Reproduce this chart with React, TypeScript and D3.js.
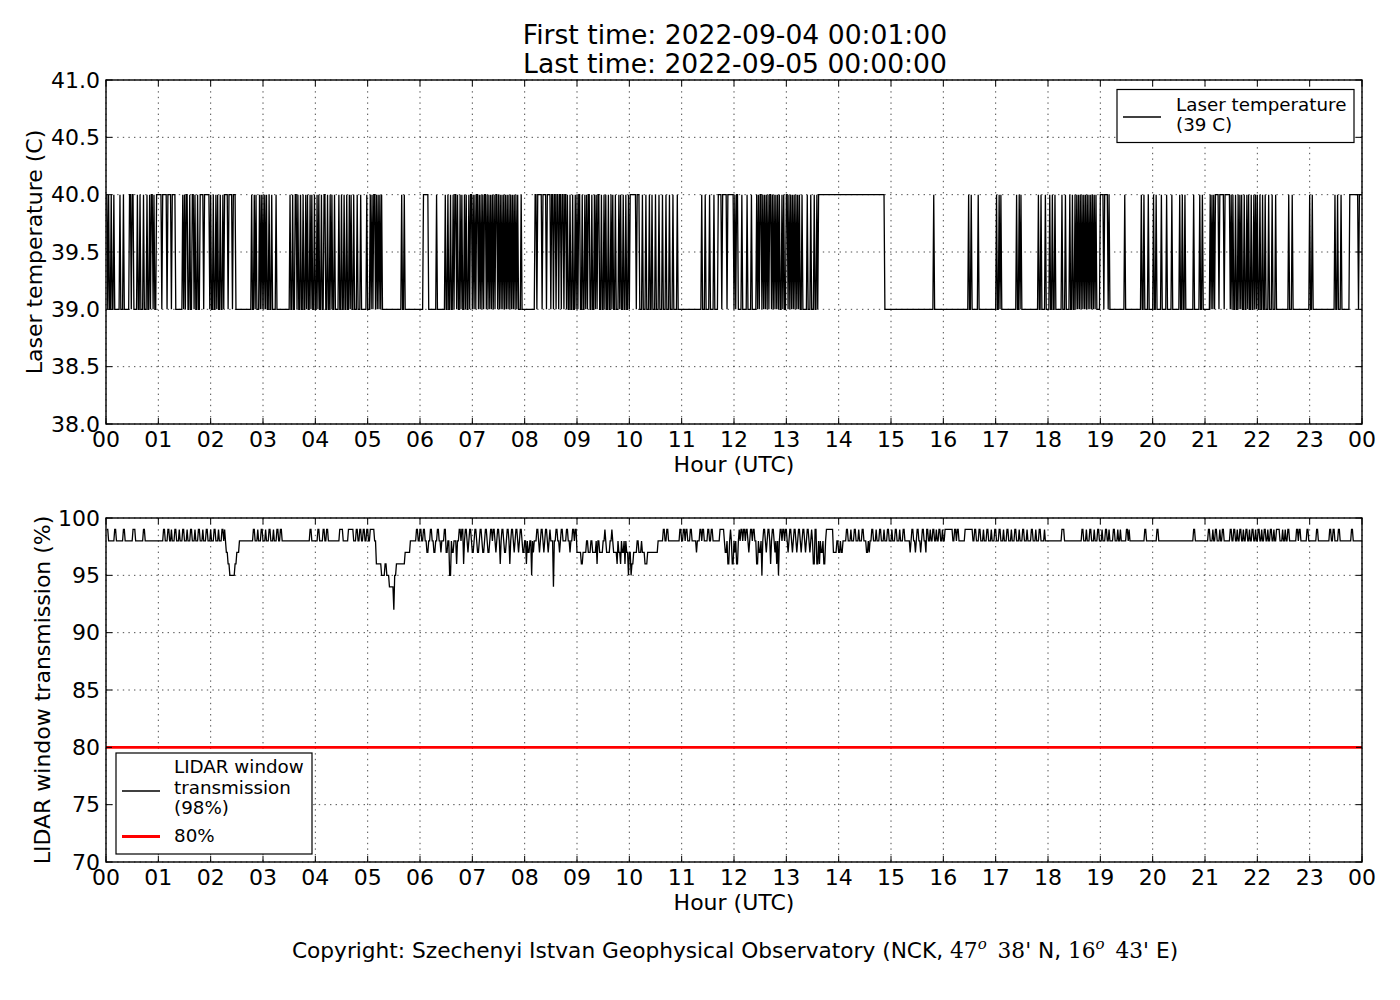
import React from 'react';
import * as d3 from 'd3';

// ---------------- DATA ----------------
const titleLines = ['First time: 2022-09-04 00:01:00', 'Last time: 2022-09-05 00:00:00'];
const hourTickLabels = ['00','01','02','03','04','05','06','07','08','09','10','11','12','13','14','15','16','17','18','19','20','21','22','23','00'];
const laserTicks = [38.0, 38.5, 39.0, 39.5, 40.0, 40.5, 41.0];
const transTicks = [70, 75, 80, 85, 90, 95, 100];
const laserBase = 39;
const laserHigh = 40;
const transBase = 98;
const threshold = 80;

// minutes (from 00:00) where the laser temperature reads 40 C : [start, end)
const laserHighIntervals: [number, number][] = [
  [1,2],[3,4],[6,7],[9,10],[16,17],[20,21],[27,29],[30,32],[36,37],[39,40],[43,44],[47,48],[50,51],[52,54],[55,56],[58,64],[65,70],[71,75],[76,80],
  [88,89],[90,91],[92,94],[96,97],[99,101],[102,103],[105,106],[108,112],[113,119],[120,121],[123,124],[126,127],[128,129],[131,132],[134,135],[136,140],[141,145],[146,149],
  [167,168],[170,171],[172,173],[176,177],[178,179],[180,181],[182,183],[184,185],[187,188],[190,191],[195,196],
  [211,212],[214,215],[217,219],[220,221],[223,224],[226,227],[229,230],[231,232],[234,235],[236,237],[239,240],[242,243],[244,245],[247,248],[250,252],[254,255],[257,258],[259,260],[262,263],
  [267,268],[270,271],[273,274],[276,277],[279,280],[281,282],[284,285],[288,289],[292,293],[299,300],
  [303,304],[305,306],[307,309],[310,311],[312,313],[314,315],[316,317],[339,340],[342,343],
  [364,370],[379,380],[389,390],[392,393],[395,396],[398,399],[400,402],[403,404],[406,407],[408,409],[411,412],[413,414],[416,417],[418,420],
  [421,422],[423,424],[425,427],[428,429],[430,431],[432,433],[434,436],[437,438],[439,440],[441,442],[443,444],[445,446],[447,449],[450,451],[452,453],[454,455],[456,457],[458,459],[460,461],[462,463],[464,465],[466,467],[468,469],[470,471],[472,473],[476,477],
  [492,494],[495,500],[501,505],[506,510],[511,513],[514,516],[517,519],[520,522],[523,525],[526,528],
  [529,530],[532,533],[535,536],[538,539],[540,541],[542,544],[546,547],[549,550],[551,552],[553,555],[557,558],[560,561],[562,563],[564,566],[568,569],[571,572],[573,574],[576,577],[579,580],[581,582],[584,585],[588,589],[590,591],[593,594],[596,597],[599,600],
  [601,608],[609,612],
  [615,616],[619,620],[623,624],[626,627],[630,631],[634,635],[638,639],[642,643],[646,647],[650,651],[655,656],
  [683,684],[687,688],[692,693],[697,698],[702,706],[707,712],[713,716],
  [716,720],[721,722],[723,725],[729,730],[735,736],[740,741],
  [746,747],[748,749],[750,752],[753,754],[755,756],[757,758],[759,760],[761,763],[764,765],[766,767],[768,769],[770,771],[772,773],[775,776],[777,778],
  [780,782],[783,784],[785,786],[787,788],[789,790],[791,792],[793,794],[795,796],
  [798,799],[804,805],[808,809],[812,813],[815,816],
  [817,893],
  [949,950],[989,990],[992,993],[1000,1001],[1021,1022],[1024,1025],[1026,1027],[1044,1045],[1047,1048],[1049,1050],
  [1069,1070],[1072,1073],[1077,1078],[1082,1083],[1085,1086],[1088,1089],[1096,1097],[1100,1101],[1105,1106],[1108,1109],
  [1111,1112],[1113,1114],[1115,1116],[1117,1118],[1119,1120],[1121,1122],[1123,1124],[1125,1126],[1127,1128],[1129,1130],[1131,1132],[1133,1134],[1135,1136],
  [1140,1144],[1145,1149],[1150,1151],
  [1168,1169],
  [1187,1188],[1190,1191],[1195,1196],[1201,1202],[1204,1205],[1210,1211],[1216,1217],[1222,1223],[1231,1232],[1234,1235],[1237,1238],[1247,1248],[1254,1255],[1257,1258],
  [1266,1267],[1268,1269],[1270,1271],[1272,1276],[1277,1282],[1283,1289],[1290,1291],[1292,1293],[1295,1296],[1298,1299],[1300,1301],[1302,1303],[1305,1306],[1308,1309],[1310,1311],[1313,1314],[1316,1317],[1318,1319],[1320,1321],[1323,1324],[1326,1327],
  [1329,1330],[1333,1334],[1337,1338],[1341,1342],
  [1356,1357],[1360,1361],[1380,1381],[1383,1384],[1409,1410],[1412,1413],[1416,1417],
  [1426,1436],[1437,1441],
];

// minutes where the window transmission differs from 98 %: [start, end, value]
const transmissionEvents: [number, number, number][] = [
  [1,3,99],[10,12,99],[20,22,99],[31,34,99],[43,45,99],
  [66,68,99],[71,73,99],[75,76,99],[79,81,99],[84,85,99],[88,90,99],[93,94,99],[97,99,99],[102,103,99],[106,108,99],[111,112,99],[115,117,99],[120,121,99],[124,126,99],[129,130,99],[133,135,99],[136,137,99],
  [138,140,97],[140,142,96],[142,148,95],[148,150,96],[150,153,97],
  [169,171,99],[174,175,99],[178,180,99],[183,184,99],[187,189,99],[192,193,99],[196,198,99],[200,202,99],
  [234,236,99],[243,245,99],[249,251,99],[253,255,99],[268,272,99],[278,284,99],[287,289,99],[291,293,99],[295,297,99],[299,301,99],[303,308,99],
  [310,316,96],[316,320,95],[320,322,96],[322,325,95],[325,330,94],[330,331,92],[331,333,95],[333,343,96],[343,349,97],
  [356,358,99],[360,362,99],[364,366,99],[368,370,97],[372,374,99],[376,378,97],[380,382,99],[384,385,97],[388,390,99],[390,392,97],[394,396,95],[397,399,97],[402,403,96],[405,407,99],[408,410,99],[410,411,96],[412,414,99],[415,416,97],[417,419,99],[420,422,97],[423,425,99],[426,428,97],[429,431,99],[432,434,97],[435,437,99],[438,440,97],[441,443,99],[444,446,99],[447,448,97],[449,451,99],[452,453,96],[454,456,99],[457,459,97],[460,462,99],[463,464,96],[465,467,99],[468,469,97],[470,472,99],[473,474,97],[475,477,99],[478,480,97],[482,483,96],[484,486,97],[488,489,95],[490,491,97],[494,496,99],[497,498,97],[499,501,99],[502,503,97],[504,506,99],[507,508,97],[509,510,99],[513,514,94],[516,518,99],[520,521,97],[522,524,99],[528,530,99],[532,533,97],[535,537,99],[538,540,99],
  [540,545,97],[545,547,96],[547,551,97],[553,556,97],[558,562,97],[563,564,96],[566,570,97],[572,573,99],[574,578,97],[580,581,99],[582,586,97],[586,587,96],[588,590,97],[590,591,96],[592,594,97],[595,596,96],[597,599,97],[599,600,95],[600,602,97],[602,603,95],[603,605,96],[605,609,97],[611,614,97],[615,618,97],[618,621,96],[621,633,97],
  [639,641,99],[643,645,99],[658,660,99],[662,664,99],[665,667,99],[670,672,99],[677,678,97],[681,683,99],[684,686,99],[690,692,99],[694,696,99],[704,709,99],
  [710,712,97],[713,715,96],[716,717,99],[718,720,96],[721,722,97],[723,725,96],[726,727,99],[728,730,99],[731,733,99],[734,736,99],[737,738,97],[739,741,99],[742,744,99],[746,748,96],[749,751,97],[752,753,95],[754,756,99],[757,758,97],[759,761,99],[762,763,96],[764,766,99],[767,768,97],[769,770,96],[771,772,95],[773,775,99],[776,778,99],[779,781,99],[782,783,97],[784,786,99],[787,788,97],[789,791,99],[792,793,97],[794,796,99],[797,798,97],[799,801,99],[802,803,97],[804,806,99],[807,808,97],[809,810,99],[811,813,96],[813,815,99],[815,817,96],[818,819,96],[820,822,97],[823,825,96],[826,834,99],[834,838,97],
  [840,842,97],[843,845,97],[849,851,99],[854,855,99],[858,860,99],[863,864,99],[867,869,99],[872,874,97],[875,876,97],[878,880,99],[883,884,99],[887,889,99],[892,893,99],[896,898,99],[901,902,99],[905,907,99],[910,911,99],[914,916,99],
  [922,923,97],[924,926,99],[928,929,97],[930,932,99],[934,935,97],[936,938,99],[940,941,97],[941,943,99],[945,946,99],[948,950,99],[952,953,99],[955,957,99],[959,960,99],[962,971,99],[973,975,99],[976,978,99],
  [985,994,99],[996,998,99],[1001,1003,99],[1006,1007,99],[1010,1012,99],[1015,1016,99],[1019,1021,99],[1024,1026,99],[1029,1030,99],[1033,1035,99],[1038,1039,99],[1042,1044,99],[1047,1048,99],[1051,1053,99],[1056,1057,99],[1061,1063,99],[1066,1067,99],[1070,1072,99],[1076,1077,99],
  [1096,1099,99],
  [1119,1121,99],[1124,1125,99],[1128,1130,99],[1133,1134,99],[1137,1139,99],[1142,1143,99],[1146,1148,99],[1150,1151,99],[1155,1157,99],[1160,1161,99],[1163,1164,99],[1170,1172,99],[1173,1174,99],
  [1191,1193,99],[1205,1207,99],[1247,1249,99],
  [1264,1266,99],[1269,1270,99],[1272,1274,99],[1277,1278,99],[1280,1282,99],[1289,1291,99],[1293,1295,99],[1297,1298,99],[1300,1302,99],[1304,1305,99],[1307,1309,99],[1311,1312,99],[1314,1316,99],[1318,1319,99],[1321,1323,99],[1325,1326,99],[1328,1330,99],[1332,1333,99],[1335,1337,99],[1339,1340,99],[1342,1346,99],[1349,1350,99],[1352,1353,99],[1355,1357,99],
  [1365,1367,99],[1368,1370,99],[1377,1379,99],[1388,1390,99],[1403,1405,99],[1407,1409,99],[1413,1415,99],[1428,1430,99],
];

const sampleMinutes = d3.range(1, 1441);

// ---------------- LAYOUT ----------------
const FONT = 'DejaVu Sans, sans-serif';
const LEFT = 106;
const RIGHT = 1362;
const TOP1 = 80, BOT1 = 424;
const TOP2 = 518, BOT2 = 862;

type Pt = { h: number; v: number };

const laserData: Pt[] = sampleMinutes.map((m) => ({
  h: m / 60,
  v: laserHighIntervals.some(([s, e]) => m >= s && m < e) ? laserHigh : laserBase,
}));

const transData: Pt[] = sampleMinutes.map((m) => {
  let v = transBase;
  for (const [s, e, val] of transmissionEvents) if (m >= s && m < e) v = val;
  return { h: m / 60, v };
});

const x = d3.scaleLinear().domain([0, 24]).range([LEFT, RIGHT]);

function Panel(props: {
  top: number; bottom: number; domain: [number, number]; ticks: number[]; fmt: (n: number) => string;
  ylabel: string; ylabelX: number; children: (y: d3.ScaleLinear<number, number>) => React.ReactNode;
}) {
  const { top, bottom, domain, ticks, fmt, ylabel, ylabelX, children } = props;
  const y = d3.scaleLinear().domain(domain).range([bottom, top]);
  const tl = 6;
  const hours = d3.range(0, 25);
  return (
    <g>
      {hours.map((h) => (
        <line key={'gx' + h} x1={x(h)} x2={x(h)} y1={top} y2={bottom} stroke="#000" strokeWidth={0.7} strokeDasharray="1.4 4.2" />
      ))}
      {ticks.map((t) => (
        <line key={'gy' + t} x1={LEFT} x2={RIGHT} y1={y(t)} y2={y(t)} stroke="#000" strokeWidth={0.7} strokeDasharray="1.4 4.2" />
      ))}
      <g>{children(y)}</g>
      {hours.map((h) => (
        <g key={'tx' + h}>
          <line x1={x(h)} x2={x(h)} y1={bottom} y2={bottom - tl} stroke="#000" strokeWidth={1} />
          <line x1={x(h)} x2={x(h)} y1={top} y2={top + tl} stroke="#000" strokeWidth={1} />
          <text x={x(h)} y={bottom + 23} textAnchor="middle" fontSize={22} fontFamily={FONT}>{hourTickLabels[h]}</text>
        </g>
      ))}
      {ticks.map((t) => (
        <g key={'ty' + t}>
          <line x1={LEFT} x2={LEFT + tl} y1={y(t)} y2={y(t)} stroke="#000" strokeWidth={1} />
          <line x1={RIGHT} x2={RIGHT - tl} y1={y(t)} y2={y(t)} stroke="#000" strokeWidth={1} />
          <text x={LEFT - 6} y={y(t) + 7.5} textAnchor="end" fontSize={22} fontFamily={FONT}>{fmt(t)}</text>
        </g>
      ))}
      <rect x={LEFT} y={top} width={RIGHT - LEFT} height={bottom - top} fill="none" stroke="#000" strokeWidth={1.4} />
      <text x={(LEFT + RIGHT) / 2} y={bottom + 48} textAnchor="middle" fontSize={22} fontFamily={FONT}>Hour (UTC)</text>
      <text transform={`translate(${ylabelX},${(top + bottom) / 2}) rotate(-90)`} textAnchor="middle" fontSize={22} fontFamily={FONT}>{ylabel}</text>
    </g>
  );
}

export default function App() {
  const line = (y: d3.ScaleLinear<number, number>) =>
    d3.line<Pt>().x((d) => x(d.h)).y((d) => y(d.v));
  const serif = 'DejaVu Serif, serif';
  return (
    <svg width={1400} height={1000} style={{ position: 'absolute', left: 0, top: 0, background: '#fff' }} fontFamily={FONT}>
      <rect x={0} y={0} width={1400} height={1000} fill="#fff" />
      <text x={735} y={44} textAnchor="middle" fontSize={26.6}>{titleLines[0]}</text>
      <text x={735} y={73} textAnchor="middle" fontSize={26.6}>{titleLines[1]}</text>

      <Panel top={TOP1} bottom={BOT1} domain={[38, 41]} ticks={laserTicks} fmt={d3.format('.1f')} ylabel="Laser temperature (C)" ylabelX={42}>
        {(y) => (
          <path d={line(y)(laserData) || ''} fill="none" stroke="#000" strokeWidth={1.3} />
        )}
      </Panel>

      <Panel top={TOP2} bottom={BOT2} domain={[70, 100]} ticks={transTicks} fmt={d3.format('d')} ylabel="LIDAR window transmission (%)" ylabelX={50}>
        {(y) => (
          <g>
            <path d={line(y)(transData) || ''} fill="none" stroke="#000" strokeWidth={1.3} />
            <line x1={x(0)} x2={x(24)} y1={y(threshold)} y2={y(threshold)} stroke="#ff0000" strokeWidth={2.8} />
          </g>
        )}
      </Panel>

      {/* top legend */}
      <g fontSize={18.3}>
        <rect x={1117} y={89.5} width={237} height={53} fill="#fff" stroke="#000" strokeWidth={1.2} />
        <line x1={1123} x2={1161} y1={117} y2={117} stroke="#000" strokeWidth={1.3} />
        <text x={1176} y={111}>Laser temperature</text>
        <text x={1176} y={131}>(39 C)</text>
      </g>

      {/* bottom legend */}
      <g fontSize={18.3}>
        <rect x={116} y={753} width={196} height={101} fill="#fff" stroke="#000" strokeWidth={1.2} />
        <line x1={122} x2={160} y1={791} y2={791} stroke="#000" strokeWidth={1.3} />
        <text x={174} y={773}>LIDAR window</text>
        <text x={174} y={794}>transmission</text>
        <text x={174} y={814}>(98%)</text>
        <line x1={122} x2={160} y1={836.5} y2={836.5} stroke="#ff0000" strokeWidth={2.8} />
        <text x={174} y={842}>80%</text>
      </g>

      {/* copyright */}
      <text x={735} y={958} textAnchor="middle" fontSize={21.7}>
        Copyright: Szechenyi Istvan Geophysical Observatory (NCK,{' '}
        <tspan fontFamily={serif}>47</tspan>
        <tspan fontFamily={serif} fontStyle="italic" fontSize={15} dy={-9}>o</tspan>
        <tspan fontFamily={serif} dy={9}>{'\u2002'}38'</tspan>
        {' N, '}
        <tspan fontFamily={serif}>16</tspan>
        <tspan fontFamily={serif} fontStyle="italic" fontSize={15} dy={-9}>o</tspan>
        <tspan fontFamily={serif} dy={9}>{'\u2002'}43'</tspan>
        {' E)'}
      </text>
    </svg>
  );
}
